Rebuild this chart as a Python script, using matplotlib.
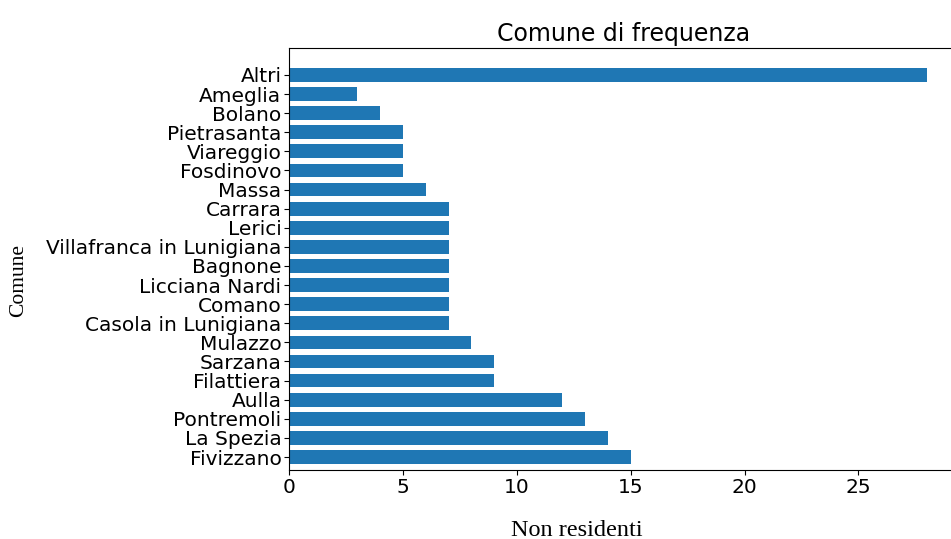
import numpy as np
import matplotlib.pyplot as plt

comuni = ["Fivizzano", "La Spezia", "Pontremoli", "Aulla", "Filattiera",
          "Sarzana", "Mulazzo", "Casola in Lunigiana", "Comano",
          "Licciana Nardi", "Bagnone", "Villafranca in Lunigiana", "Lerici",
          "Carrara", "Massa", "Fosdinovo", "Viareggio", "Pietrasanta",
          "Bolano", "Ameglia", "Altri"]
non_residenti = [15, 14, 13, 12, 9, 9, 8, 7, 7, 7, 7, 7, 7, 7, 6, 5, 5, 5, 4, 3, 28]

fig = plt.figure(figsize=(9.51, 5.39), dpi=100, facecolor="white")
ax = fig.add_axes([0.304, 0.128, 0.704, 0.783])

y = np.arange(len(comuni))
ax.barh(y, non_residenti, height=0.72, color="#1f77b4")
ax.set_yticks(y)
ax.set_yticklabels(comuni, fontsize=14.5)
ax.tick_params(axis="x", labelsize=14.5, pad=2)
ax.tick_params(axis="y", pad=2)
ax.set_xlim(0, 29.4)
ax.set_ylim(-0.68, 21.41)
ax.set_xticks([0, 5, 10, 15, 20, 25])

ax.set_title("Comune di frequenza", fontsize=17, pad=5)
ax.set_xlabel("Non residenti", family="Liberation Serif", fontsize=17.5)
ax.set_ylabel("Comune", family="Liberation Serif", fontsize=15.5)
# label positions as in the reference
ax.xaxis.set_label_coords(0.43, -0.118)
ax.yaxis.set_label_coords(-0.39, 0.45)

plt.savefig("out.png", dpi=100)
